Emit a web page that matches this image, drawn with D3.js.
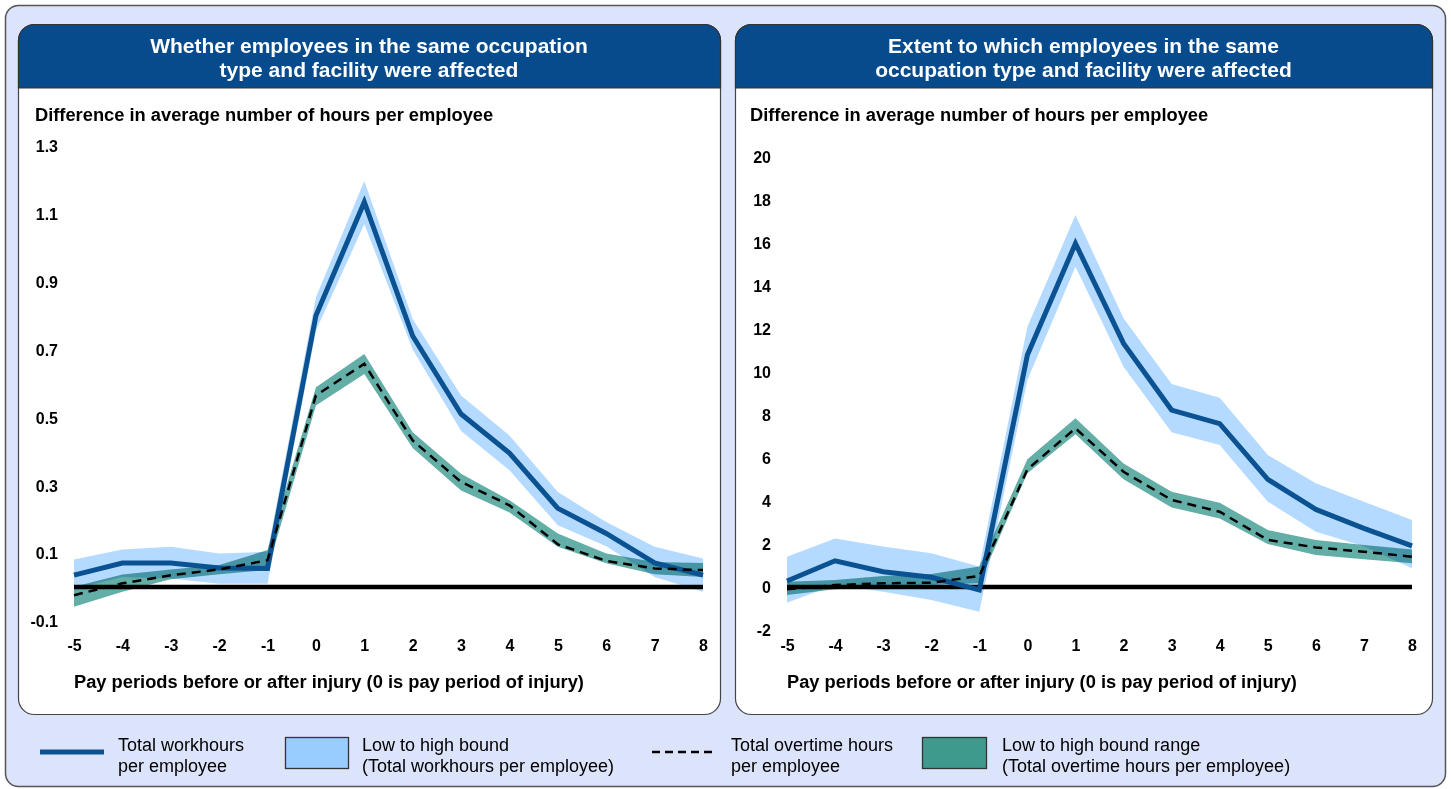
<!DOCTYPE html>
<html>
<head>
<meta charset="utf-8">
<script src="https://cdn.jsdelivr.net/npm/d3@7/dist/d3.min.js"></script>
<style>
    html, body { margin: 0; padding: 0; background: #ffffff; }
    svg { display: block; font-family: 'Liberation Sans', Arial, sans-serif; }
    .tick text { font-size: 16px; font-weight: bold; fill: #000; }
</style>
</head>
<body>
<svg id="chart" width="1451" height="789"></svg>
<script>
// pay periods relative to injury
var periods = [-5, -4, -3, -2, -1, 0, 1, 2, 3, 4, 5, 6, 7, 8];

// left panel: whether co-workers were affected
var leftTotal     = [0.035, 0.071, 0.071, 0.056, 0.055, 0.80, 1.135, 0.74, 0.51, 0.395, 0.232, 0.158, 0.071, 0.035];
var leftTotalHigh = [0.081, 0.111, 0.119, 0.099, 0.104, 0.854, 1.197, 0.79, 0.565, 0.447, 0.28, 0.192, 0.119, 0.084];
var leftTotalLow  = [-0.005, 0.03, 0.025, 0.01, 0.01, 0.756, 1.07, 0.70, 0.46, 0.344, 0.182, 0.12, 0.03, -0.014];
var leftOver      = [-0.024, 0.011, 0.035, 0.052, 0.079, 0.565, 0.658, 0.432, 0.31, 0.241, 0.126, 0.077, 0.055, 0.05];
var leftOverHigh  = [0.001, 0.037, 0.052, 0.065, 0.109, 0.589, 0.687, 0.456, 0.334, 0.256, 0.158, 0.099, 0.074, 0.071];
var leftOverLow   = [-0.058, -0.014, 0.023, 0.038, 0.05, 0.535, 0.628, 0.41, 0.285, 0.22, 0.119, 0.07, 0.038, 0.03];
var leftTicks     = [-0.1, 0.1, 0.3, 0.5, 0.7, 0.9, 1.1, 1.3];

// right panel: extent to which co-workers were affected
var rightTotal     = [0.28, 1.22, 0.71, 0.45, -0.14, 10.79, 15.98, 11.33, 8.23, 7.6, 5.01, 3.61, 2.73, 1.91];
var rightTotalHigh = [1.41, 2.26, 1.88, 1.57, 0.95, 12.1, 17.3, 12.5, 9.44, 8.8, 6.14, 4.82, 3.97, 3.12];
var rightTotalLow  = [-0.73, 0.1, -0.22, -0.6, -1.15, 9.63, 14.9, 10.25, 7.2, 6.6, 3.97, 2.57, 1.9, 0.87];
var rightOver      = [-0.11, 0.09, 0.17, 0.2, 0.51, 5.47, 7.38, 5.36, 4.05, 3.5, 2.19, 1.84, 1.64, 1.41];
var rightOverHigh  = [0.25, 0.33, 0.51, 0.6, 0.95, 5.94, 7.85, 5.75, 4.43, 3.92, 2.65, 2.19, 1.95, 1.75];
var rightOverLow   = [-0.37, -0.11, 0.01, 0.09, 0.17, 5.29, 7.1, 5.01, 3.7, 3.19, 2.0, 1.49, 1.29, 1.1];
var rightTicks     = [-2, 0, 2, 4, 6, 8, 10, 12, 14, 16, 18, 20];

var titles = [
    ['Whether employees in the same occupation', 'type and facility were affected'],
    ['Extent to which employees in the same', 'occupation type and facility were affected']
];
var yTitle = 'Difference in average number of hours per employee';
var xTitle = 'Pay periods before or after injury (0 is pay period of injury)';

var legendItems = [
    ['Total workhours', 'per employee'],
    ['Low to high bound', '(Total workhours per employee)'],
    ['Total overtime hours', 'per employee'],
    ['Low to high bound range', '(Total overtime hours per employee)']
];

(function() {
    'use strict';

    var NAVY = '#074b8d';
    var LINE_BLUE = '#0a5291';
    var LIGHT_BLUE = '#99ccff';
    var TEAL = '#3f9a8e';

    var svg = d3.select('#chart');

    // plain hyphen for negatives, like the original
    function hyphen(f) {
        return function(d) { return f(d).replace('\u2212', '-'); };
    }

    // outer frame
    svg.append('rect')
        .attr('x', 5.5).attr('y', 5.5)
        .attr('width', 1440).attr('height', 781)
        .attr('rx', 13)
        .attr('fill', '#dce4fb')
        .attr('stroke', '#555').attr('stroke-width', 1.5);

    var panels = [
        {
            x: 18, width: 702, title: titles[0], yTitleX: 17,
            plotLeft: 56, plotRight: 685, top: 146, bottom: 621,
            ticks: leftTicks, fmt: hyphen(d3.format('.1f')),
            total: leftTotal, totalLow: leftTotalLow, totalHigh: leftTotalHigh,
            over: leftOver, overLow: leftOverLow, overHigh: leftOverHigh
        },
        {
            x: 735, width: 697, title: titles[1], yTitleX: 15,
            plotLeft: 52, plotRight: 677, top: 157, bottom: 630,
            ticks: rightTicks, fmt: hyphen(d3.format('d')),
            total: rightTotal, totalLow: rightTotalLow, totalHigh: rightTotalHigh,
            over: rightOver, overLow: rightOverLow, overHigh: rightOverHigh
        }
    ];

    panels.forEach(drawPanel);
    drawLegend();

    function drawPanel(p) {
        var g = svg.append('g').attr('transform', 'translate(' + p.x + ',0)');
        var top = 24, bottom = 714, headH = 64, r = 16, w = p.width;

        g.append('rect')
            .attr('x', 0.5).attr('y', top + 0.5)
            .attr('width', w).attr('height', bottom - top)
            .attr('rx', r)
            .attr('fill', '#fff')
            .attr('stroke', '#444').attr('stroke-width', 1.2);

        // header with rounded top corners
        var path = d3.path();
        path.moveTo(0.5, top + headH);
        path.lineTo(0.5, top + r);
        path.arcTo(0.5, top + 0.5, r, top + 0.5, r);
        path.lineTo(w + 0.5 - r, top + 0.5);
        path.arcTo(w + 0.5, top + 0.5, w + 0.5, top + r, r);
        path.lineTo(w + 0.5, top + headH);
        path.closePath();
        g.append('path')
            .attr('d', path.toString())
            .attr('fill', NAVY)
            .attr('stroke', '#333').attr('stroke-width', 1.2);

        g.selectAll('.head')
            .data(p.title)
            .enter().append('text')
            .attr('x', w / 2)
            .attr('y', function(d, i) { return 53 + i * 24; })
            .attr('text-anchor', 'middle')
            .attr('fill', '#fff')
            .style('font-size', '21px')
            .style('font-weight', 'bold')
            .text(function(d) { return d; });

        g.append('text')
            .attr('x', p.yTitleX).attr('y', 121)
            .style('font-size', '18.3px').style('font-weight', 'bold')
            .text(yTitle);

        var x = d3.scaleLinear()
            .domain(d3.extent(periods))
            .range([p.plotLeft, p.plotRight]);
        var y = d3.scaleLinear()
            .domain(d3.extent(p.ticks))
            .range([p.bottom, p.top]);

        var yAxis = g.append('g')
            .attr('transform', 'translate(' + p.plotLeft + ',0)')
            .call(d3.axisLeft(y).tickValues(p.ticks).tickFormat(p.fmt).tickSize(0).tickPadding(16));
        yAxis.select('.domain').remove();
        yAxis.selectAll('.tick text').attr('dy', '0.36em');

        var xAxis = g.append('g')
            .attr('transform', 'translate(0,640)')
            .call(d3.axisBottom(x).tickValues(periods).tickFormat(hyphen(d3.format('d'))).tickSize(0).tickPadding(0));
        xAxis.select('.domain').remove();
        xAxis.selectAll('.tick text').attr('dy', '0.71em').attr('y', 0);

        g.append('text')
            .attr('x', p.plotLeft).attr('y', 688)
            .style('font-size', '18.3px').style('font-weight', 'bold')
            .text(xTitle);

        var rows = periods.map(function(d, i) {
            return {
                period: d,
                total: p.total[i], totalLow: p.totalLow[i], totalHigh: p.totalHigh[i],
                over: p.over[i], overLow: p.overLow[i], overHigh: p.overHigh[i]
            };
        });

        var totalBand = d3.area()
            .x(function(d) { return x(d.period); })
            .y0(function(d) { return y(d.totalLow); })
            .y1(function(d) { return y(d.totalHigh); });
        var overBand = d3.area()
            .x(function(d) { return x(d.period); })
            .y0(function(d) { return y(d.overLow); })
            .y1(function(d) { return y(d.overHigh); });

        g.append('path')
            .datum(rows)
            .attr('d', totalBand)
            .attr('fill', LIGHT_BLUE)
            .attr('fill-opacity', 0.72);

        g.append('path')
            .datum(rows)
            .attr('d', overBand)
            .attr('fill', '#63aea6')
            .style('mix-blend-mode', 'multiply');

        // zero line
        g.append('line')
            .attr('x1', x(periods[0])).attr('x2', x(periods[periods.length - 1]))
            .attr('y1', y(0)).attr('y2', y(0))
            .attr('stroke', '#000').attr('stroke-width', 4.5);

        g.append('path')
            .datum(rows)
            .attr('d', d3.line()
                .x(function(d) { return x(d.period); })
                .y(function(d) { return y(d.total); }))
            .attr('fill', 'none')
            .attr('stroke', LINE_BLUE)
            .attr('stroke-width', 5);

        g.append('path')
            .datum(rows)
            .attr('d', d3.line()
                .x(function(d) { return x(d.period); })
                .y(function(d) { return y(d.over); }))
            .attr('fill', 'none')
            .attr('stroke', '#000')
            .attr('stroke-width', 2.5)
            .attr('stroke-dasharray', '9,6');
    }

    function drawLegend() {
        var lg = svg.append('g').attr('class', 'legend');

        lg.append('line')
            .attr('x1', 40).attr('x2', 104)
            .attr('y1', 752).attr('y2', 752)
            .attr('stroke', LINE_BLUE).attr('stroke-width', 5);

        lg.append('rect')
            .attr('x', 285.5).attr('y', 737.5)
            .attr('width', 63).attr('height', 31)
            .attr('fill', LIGHT_BLUE)
            .attr('stroke', '#333').attr('stroke-width', 1.3);

        lg.append('line')
            .attr('x1', 652).attr('x2', 713)
            .attr('y1', 752).attr('y2', 752)
            .attr('stroke', '#000').attr('stroke-width', 2.5)
            .attr('stroke-dasharray', '8,5');

        lg.append('rect')
            .attr('x', 922.5).attr('y', 737.5)
            .attr('width', 64).attr('height', 31)
            .attr('fill', TEAL)
            .attr('stroke', '#333').attr('stroke-width', 1.3);

        var textX = [118, 362, 731, 1002];
        legendItems.forEach(function(lines, i) {
            lg.selectAll('.l' + i)
                .data(lines)
                .enter().append('text')
                .attr('x', textX[i])
                .attr('y', function(d, j) { return 751 + j * 21; })
                .style('font-size', '18px')
                .text(function(d) { return d; });
        });
    }
}());
</script>
</body>
</html>
